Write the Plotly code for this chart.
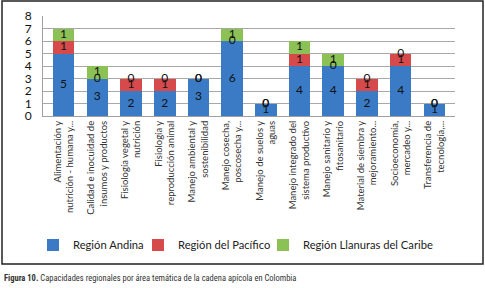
import plotly.graph_objects as go

categories = [
    "Alimentación y<br>nutrición - humana y...",
    "Calidad e inocuidad de<br>insumos y productos",
    "Fisiología vegetal y<br>nutrición",
    "Fisiología y<br>reproducción animal",
    "Manejo ambiental y<br>sostenibilidad",
    "Manejo cosecha,<br>poscosecha y...",
    "Manejo de suelos y<br>aguas",
    "Manejo integrado del<br>sistema productivo",
    "Manejo sanitario y<br>fitosanitario",
    "Material de siembra y<br>mejoramiento...",
    "Socioeconomía,<br>mercadeo y...",
    "Transferencia de<br>tecnología,...",
]
andina = [5, 3, 2, 2, 3, 6, 1, 4, 4, 2, 4, 1]
pacifico = [1, 0, 1, 1, 0, 0, 0, 1, 0, 1, 1, 0]
caribe = [1, 1, 0, 0, 0, 1, 0, 1, 1, 0, 0, 0]
series_names = ["Región Andina", "Región del Pacífico", "Región Llanuras del Caribe"]
colors = ["#3B7BC6", "#D64A4C", "#8CC255"]
y_ticks = list(range(0, 9))

W, H = 485, 288
L, R, T, B = 43, 30, 16, 172
pw, ph = W - L - R, H - T - B

def px_x(p):
    return (p - L) / pw

def px_y(p):
    return (H - B - p) / ph

fig = go.Figure()
series = [andina, pacifico, caribe]
legend_ids = ["legend", "legend2", "legend3"]
for name, vals, col, lg in zip(series_names, series, colors, legend_ids):
    fig.add_trace(go.Bar(x=categories, y=vals, name=name, marker_color=col,
                         marker_line_width=0, legend=lg))

# data labels
lx, ly, lt = [], [], []
base = [0] * len(categories)
for vals in series:
    for i, v in enumerate(vals):
        lx.append(categories[i])
        ly.append(base[i] + v / 2)
        lt.append(str(v))
        base[i] += v
fig.add_trace(go.Scatter(x=lx, y=ly, text=lt, mode="text", showlegend=False,
                         textfont=dict(family="Lato, Open Sans, sans-serif", size=12, color="#111"),
                         hoverinfo="skip"))

def leg(xpx):
    return dict(orientation="h", xref="container", yref="container",
                x=xpx / W, xanchor="left", y=1 - 245 / H, yanchor="middle",
                font=dict(size=11.2, color="#222"), itemwidth=30,
                bgcolor="rgba(0,0,0,0)")

fig.update_layout(
    barmode="stack",
    bargap=0.36,
    width=W, height=H,
    margin=dict(l=L, r=R, t=T, b=B, autoexpand=False),
    paper_bgcolor="white", plot_bgcolor="white",
    font=dict(family="Lato, Open Sans, sans-serif", color="#222"),
    legend=leg(33), legend2=leg(138), legend3=leg(263),
    xaxis=dict(tickangle=-90, tickfont=dict(size=9.5, color="#333"), showline=True,
               linecolor="#A0A0A0", linewidth=1, ticks="", showgrid=False, automargin=False),
    yaxis=dict(range=[0, 8], tickvals=y_ticks, tickfont=dict(size=12, color="#111"),
               showgrid=True, gridcolor="#A8A8A8", gridwidth=1, showline=True,
               linecolor="#A0A0A0", zeroline=False, ticks="", ticklabelstandoff=8,
               automargin=False),
    shapes=[dict(type="rect", xref="paper", yref="paper",
                 x0=px_x(2), x1=px_x(483), y0=px_y(264), y1=px_y(1),
                 line=dict(color="#222", width=1.5))],
    annotations=[dict(xref="paper", yref="paper", x=px_x(2), y=px_y(278),
                      xanchor="left", yanchor="middle", showarrow=False,
                      text="<b>Figura 10.</b> Capacidades regionales por área temática de la cadena apícola en Colombia",
                      font=dict(family="Liberation Sans Narrow, Roboto Condensed, DejaVu Sans Condensed, sans-serif",
                                size=8.5, color="#333"))],
)

fig.write_html("out.html", config={"displayModeBar": False},
               post_script="document.body.style.margin='0';document.body.style.overflow='hidden';")
